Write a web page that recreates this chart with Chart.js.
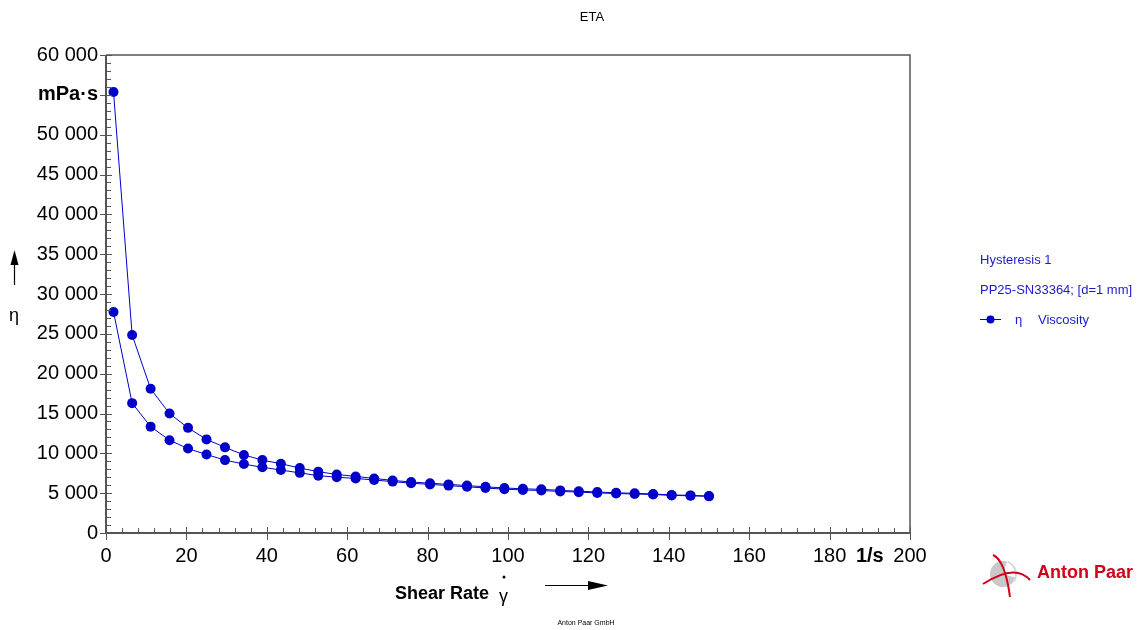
<!DOCTYPE html>
<html>
<head>
<meta charset="utf-8">
<title>ETA</title>
<script src="https://cdn.jsdelivr.net/npm/chart.js@4.4.1/dist/chart.umd.min.js"></script>
<style>
  html, body { margin: 0; padding: 0; background: #fff; }
  #wrap { position: relative; width: 1138px; height: 630px; }
</style>
</head>
<body>
<div id="wrap"><canvas id="chart" width="1138" height="630"></canvas></div>
<script>
// shear rate (1/s), same points for both branches of the loop
const SHEAR_RATE = [1.87, 6.5, 11.1, 15.8, 20.4, 25.0, 29.6, 34.3, 38.9, 43.5, 48.2,
  52.8, 57.4, 62.1, 66.7, 71.3, 75.9, 80.6, 85.2, 89.8, 94.4, 99.1, 103.7, 108.3,
  113.0, 117.6, 122.2, 126.9, 131.5, 136.1, 140.7, 145.4, 150.0];

// viscosity (mPa·s)
const ETA_UPPER = [55350, 24850, 18100, 15000, 13200, 11750, 10750, 9800, 9150, 8700, 8150,
  7700, 7350, 7100, 6850, 6600, 6400, 6250, 6100, 5950, 5800, 5650, 5550, 5480,
  5350, 5250, 5150, 5050, 4980, 4900, 4780, 4720, 4640];
const ETA_LOWER = [27750, 16300, 13350, 11650, 10600, 9850, 9150, 8650, 8250, 7900, 7550,
  7200, 7000, 6850, 6650, 6450, 6250, 6100, 5950, 5800, 5650, 5500, 5400, 5330,
  5220, 5130, 5030, 4950, 4900, 4830, 4720, 4670, 4600];

const X_TICKS = [0, 20, 40, 60, 80, 100, 120, 140, 160, 180, 190, 200];
const X_UNIT_TICK = 190;
const Y_UNIT_TICK = 55000;

const BLUE = '#0000c8';
const AXIS = '#555555';
const FONT = 'Arial, "Liberation Sans", Helvetica, sans-serif';

const fmt = (v) => String(v).replace(/\B(?=(\d{3})+(?!\d))/g, ' ');
const pts = (ys) => SHEAR_RATE.map((x, i) => ({ x, y: ys[i] }));

const series = (data) => ({
  data,
  borderColor: BLUE,
  backgroundColor: BLUE,
  borderWidth: 1,
  pointRadius: 5,
  pointHoverRadius: 5,
  pointBorderWidth: 0,
  tension: 0,
});

// axes box, tick marks, axis titles, legend and logo
const decor = {
  id: 'decor',
  afterDraw(chart) {
    const { ctx, chartArea: a, scales } = chart;
    const xs = scales.x, ys = scales.y;
    ctx.save();

    ctx.strokeStyle = AXIS;
    ctx.lineWidth = 1.5;
    ctx.beginPath();
    ctx.moveTo(a.left, a.top); ctx.lineTo(a.right, a.top); ctx.lineTo(a.right, a.bottom);
    ctx.stroke();
    ctx.lineWidth = 2;
    ctx.beginPath();
    ctx.moveTo(a.left, a.top); ctx.lineTo(a.left, a.bottom); ctx.lineTo(a.right, a.bottom);
    ctx.stroke();

    ctx.lineWidth = 1;
    ctx.beginPath();
    for (let v = 0; v <= 200; v += 4) {
      const px = Math.round(xs.getPixelForValue(v)) + 0.5;
      if (v % 20 === 0) { ctx.moveTo(px, a.bottom - 6); ctx.lineTo(px, a.bottom + 7); }
      else { ctx.moveTo(px, a.bottom - 5); ctx.lineTo(px, a.bottom); }
    }
    for (let v = 0; v <= 60000; v += 1000) {
      const py = Math.round(ys.getPixelForValue(v)) + 0.5;
      if (v % 5000 === 0) { ctx.moveTo(a.left - 6, py); ctx.lineTo(a.left + 6, py); }
      else { ctx.moveTo(a.left, py); ctx.lineTo(a.left + 5, py); }
    }
    ctx.stroke();

    // title
    ctx.fillStyle = '#000';
    ctx.font = '13px ' + FONT;
    ctx.textAlign = 'center';
    ctx.textBaseline = 'middle';
    ctx.fillText('ETA', 592, 17);

    // y axis title with arrow
    ctx.font = '18px ' + FONT;
    ctx.fillText('η', 14, 316);
    ctx.lineWidth = 1.2;
    ctx.strokeStyle = '#000';
    ctx.beginPath(); ctx.moveTo(14.5, 285); ctx.lineTo(14.5, 262); ctx.stroke();
    ctx.beginPath(); ctx.moveTo(14.5, 250); ctx.lineTo(10.5, 265); ctx.lineTo(18.5, 265); ctx.closePath(); ctx.fill();

    // x axis title with arrow
    ctx.font = 'bold 18px ' + FONT;
    ctx.textAlign = 'left';
    ctx.textBaseline = 'alphabetic';
    ctx.fillText('Shear Rate', 395, 599);
    ctx.font = '18px ' + FONT;
    ctx.fillText('γ', 499, 602);
    ctx.beginPath(); ctx.arc(504, 577, 1.5, 0, Math.PI * 2); ctx.fill();
    ctx.beginPath(); ctx.moveTo(545, 585.5); ctx.lineTo(590, 585.5); ctx.stroke();
    ctx.beginPath(); ctx.moveTo(608, 585.5); ctx.lineTo(588, 581); ctx.lineTo(588, 590); ctx.closePath(); ctx.fill();

    // legend
    ctx.fillStyle = '#1a1ad0';
    ctx.font = '13px ' + FONT;
    ctx.textBaseline = 'middle';
    ctx.fillText('Hysteresis 1', 980, 260);
    ctx.fillText('PP25-SN33364; [d=1 mm]', 980, 290);
    ctx.fillText('η', 1015, 320);
    ctx.fillText('Viscosity', 1038, 320);
    ctx.strokeStyle = BLUE;
    ctx.fillStyle = BLUE;
    ctx.lineWidth = 1;
    ctx.beginPath(); ctx.moveTo(980, 319.5); ctx.lineTo(1001, 319.5); ctx.stroke();
    ctx.beginPath(); ctx.arc(990.5, 319.5, 4, 0, Math.PI * 2); ctx.fill();

    // logo
    ctx.fillStyle = '#c8c8c8';
    ctx.beginPath(); ctx.arc(1003, 574, 13, 0.3, Math.PI * 1.6); ctx.lineTo(1003, 574); ctx.fill();
    ctx.strokeStyle = '#d8d8d8';
    ctx.lineWidth = 2;
    ctx.beginPath(); ctx.arc(1003, 574, 13, -1.2, 0.6); ctx.stroke();
    ctx.strokeStyle = '#d4001a';
    ctx.lineWidth = 2;
    ctx.beginPath();
    ctx.moveTo(983, 584);
    ctx.quadraticCurveTo(1015, 563, 1030, 580);
    ctx.stroke();
    ctx.beginPath();
    ctx.moveTo(993, 555);
    ctx.quadraticCurveTo(1005, 560, 1010, 597);
    ctx.stroke();
    ctx.fillStyle = '#d4001a';
    ctx.font = 'bold 18px ' + FONT;
    ctx.textBaseline = 'alphabetic';
    ctx.fillText('Anton Paar', 1037, 578);

    // footer
    ctx.fillStyle = '#000';
    ctx.font = '7px ' + FONT;
    ctx.textAlign = 'center';
    ctx.fillText('Anton Paar GmbH', 586, 625);

    ctx.restore();
  },
};

new Chart(document.getElementById('chart'), {
  type: 'line',
  data: { datasets: [series(pts(ETA_UPPER)), series(pts(ETA_LOWER))] },
  options: {
    responsive: false,
    animation: false,
    events: [],
    layout: { padding: { left: 0, top: 55, right: 228, bottom: 0 } },
    plugins: { legend: { display: false }, tooltip: { enabled: false } },
    scales: {
      x: {
        type: 'linear',
        min: 0,
        max: 200,
        border: { display: false },
        grid: { display: false, drawTicks: false },
        afterBuildTicks: (s) => { s.ticks = X_TICKS.map((value) => ({ value })); },
        afterFit: (s) => { s.height = 97; },
        ticks: {
          padding: 11,
          color: '#000',
          maxRotation: 0,
          autoSkip: false,
          font: (c) => ({ family: FONT, size: 20, weight: c.tick && c.tick.value === X_UNIT_TICK ? 'bold' : 'normal' }),
          callback: (v) => (v === X_UNIT_TICK ? '1/s' : fmt(v)),
        },
      },
      y: {
        min: 0,
        max: 60000,
        border: { display: false },
        grid: { display: false, drawTicks: false },
        afterFit: (s) => { s.width = 106; },
        ticks: {
          stepSize: 5000,
          padding: 8,
          color: '#000',
          font: (c) => ({ family: FONT, size: 20, weight: c.tick && c.tick.value === Y_UNIT_TICK ? 'bold' : 'normal' }),
          callback: (v) => (v === Y_UNIT_TICK ? 'mPa·s' : fmt(v)),
        },
      },
    },
  },
  plugins: [decor],
});
</script>
</body>
</html>
